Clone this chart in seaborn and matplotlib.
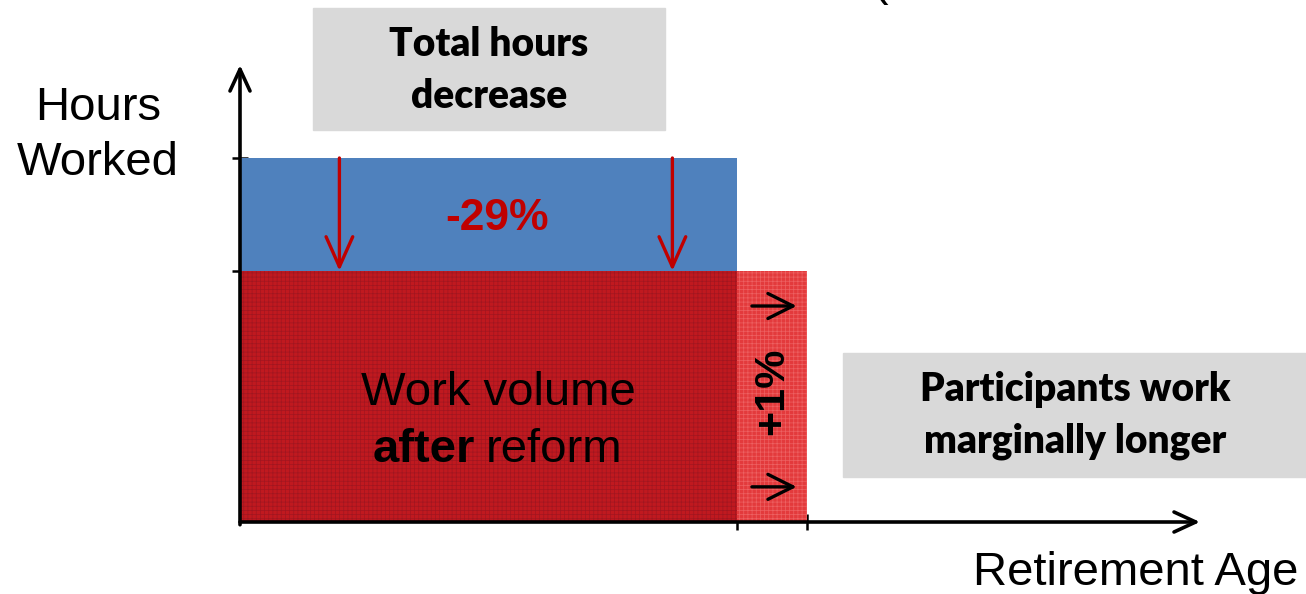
import numpy as np
import seaborn as sns
import matplotlib.pyplot as plt
from matplotlib.patches import Rectangle

# conceptual values
periods = ["before reform", "after reform"]
hours_worked = [1.0, 0.69]        # relative hours, -29% after reform
retirement_age = [1.0, 1.14]      # relative retirement age, slightly later
change_labels = ["-29%", "+1%"]

W, H = 1306, 594
sns.set_theme(style="white")
plt.rcParams['font.family'] = ['Liberation Sans', 'DejaVu Sans']
plt.rcParams['text.color'] = 'black'
plt.rcParams['hatch.linewidth'] = 0.5

fig = plt.figure(figsize=(W / 100, H / 100), dpi=100)


def fx(x):
    return x / W


def fy(y):
    return 1 - y / H


# axes: origin at (240, 522) px, arrow tips at x=1200 and y=65
ax = fig.add_axes([fx(240), fy(522), (1200 - 240) / W, (522 - 65) / H])
ax.set_xlim(0, 960 / 497)
ax.set_ylim(0, 457 / 364)
for s in ax.spines.values():
    s.set_visible(False)
ax.patch.set_alpha(0)

blue = '#4F81BD'
dark_red = '#C0191F'
light_red = '#E33A3C'

# work volume before reform (blue) and after (red)
ax.bar(0, hours_worked[0], width=retirement_age[0], align='edge',
       color=blue, linewidth=0)
ax.bar(0, hours_worked[1], width=retirement_age[0], align='edge',
       facecolor=dark_red, edgecolor=(0.55, 0.08, 0.12, 0.6),
       hatch='++++', linewidth=0)
ax.bar(retirement_age[0], hours_worked[1],
       width=retirement_age[1] - retirement_age[0], align='edge',
       facecolor=light_red, edgecolor=(0.95, 0.45, 0.45, 0.7),
       hatch='++++', linewidth=0)

# axis arrows
arrow_kw = dict(arrowstyle='->,head_length=1.3,head_width=0.6', color='black',
                lw=2.6, shrinkA=0, shrinkB=0)
ax.annotate('', xy=(1, 0), xytext=(0, 0), xycoords='axes fraction',
            arrowprops=arrow_kw, annotation_clip=False)
ax.annotate('', xy=(0, 1), xytext=(0, -0.006), xycoords='axes fraction',
            arrowprops=arrow_kw, annotation_clip=False)

ax.set_xticks(retirement_age)
ax.set_yticks(hours_worked)
ax.set_xticklabels([])
ax.set_yticklabels([])
ax.tick_params(axis='both', direction='inout', length=12, width=1.8,
               color='black', bottom=True, left=True)

# red arrows: hours drop
red_kw = dict(arrowstyle='->,head_length=1.8,head_width=0.8', color='#C00000',
              lw=2.4, shrinkA=0, shrinkB=0)
for xa in [0.2, 0.87]:
    ax.annotate('', xy=(xa * retirement_age[0], hours_worked[1]),
                xytext=(xa * retirement_age[0], hours_worked[0]),
                arrowprops=red_kw)

# black arrows in the extension column
blk_kw = dict(arrowstyle='->,head_length=1.5,head_width=0.75', color='black',
              lw=2.4, shrinkA=0, shrinkB=0)
x0 = retirement_age[0] + 0.03
x1 = retirement_age[1] - 0.02
for ya in [0.86, 0.14]:
    ax.annotate('', xy=(x1, ya * hours_worked[1]),
                xytext=(x0, ya * hours_worked[1]), arrowprops=blk_kw)

ax.text(retirement_age[0] * 0.518, (hours_worked[0] + hours_worked[1]) / 2 - 0.01,
        change_labels[0], ha='center', va='center', fontsize=32,
        fontweight='bold', color='#C00000')
ax.text((retirement_age[0] + retirement_age[1]) / 2, hours_worked[1] * 0.52,
        change_labels[1], ha='center', va='center', rotation=90,
        fontsize=31, fontweight='bold', color='black')

# text in the red block
fig.text(fx(498), fy(405), 'Work volume', ha='center', va='baseline',
         fontsize=34, color='black')
fig.text(fx(475), fy(462), 'after', ha='right', va='baseline',
         fontsize=34, fontweight='bold', color='black')
fig.text(fx(486), fy(462), 'reform', ha='left', va='baseline',
         fontsize=34, color='black')

# axis titles
fig.text(fx(98), fy(120), 'Hours', ha='center', va='baseline', fontsize=34)
fig.text(fx(98), fy(175), 'Worked', ha='center', va='baseline', fontsize=34)
fig.text(fx(1298), fy(585), 'Retirement Age', ha='right', va='baseline',
         fontsize=34)
fig.text(fx(880), fy(-5), '(', ha='center', va='baseline', fontsize=34)

# grey callout boxes
box_font = ['Lato', 'DejaVu Sans']
fig.patches.append(Rectangle((fx(313), fy(130)), (665 - 313) / W, 122 / H,
                             transform=fig.transFigure, color='#D9D9D9',
                             zorder=0))
fig.patches.append(Rectangle((fx(843), fy(477)), (1306 - 843) / W, 124 / H,
                             transform=fig.transFigure, color='#D9D9D9',
                             zorder=0))
box_kw = dict(ha='center', va='center', fontsize=28, fontweight='heavy',
              family=box_font, color='black')
fig.text(fx(489), fy(45), 'Total hours', **box_kw)
fig.text(fx(489), fy(97), 'decrease', **box_kw)
fig.text(fx(1075), fy(390), 'Participants work', **box_kw)
fig.text(fx(1075), fy(441), 'marginally longer', **box_kw)

fig.savefig('out.png', dpi=100)
